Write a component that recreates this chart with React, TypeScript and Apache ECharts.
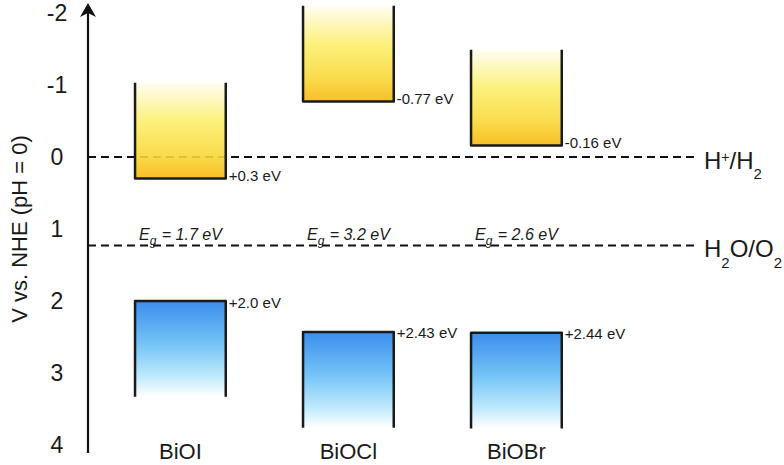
import React, { useEffect, useRef } from 'react';
import * as echarts from 'echarts';

// ---- data ----
const materials = ['BiOI', 'BiOCl', 'BiOBr'];
const conductionBand = [0.3, -0.77, -0.16]; // CB edge, V vs NHE
const valenceBand = [2.0, 2.43, 2.44]; // VB edge, V vs NHE
const bandGap = [1.7, 3.2, 2.6]; // eV
const redoxPotential = [0, 1.23];
const redoxCouple = ['H+/H2', 'H2O/O2'];
const yTickMin = -2;
const yTickMax = 4;
const yTickStep = 1;

// ---- layout / style constants ----
const FONT = "'Liberation Sans', Arial, Helvetica, sans-serif";
const INK = '#1a1a1a';
const X_MIN = -0.55;
const X_MAX = 3.075;
const BOX_HALF = 0.27;
const BAND_DEPTH = 1.33;
const EG_LEVEL = 1.06;

function fmtEV(v: number): string {
  const s = Number.isInteger(v) ? v.toFixed(1) : String(v);
  return (v > 0 ? '+' : '') + s + ' eV';
}

function chemRich(s: string): string {
  let out = '';
  for (const ch of s) {
    if (ch === '+') out += `{sup|${ch}}`;
    else if (/\d/.test(ch)) out += `{sub|${ch}}`;
    else out += `{n|${ch}}`;
  }
  return out;
}

const cbGradient = () =>
  new echarts.graphic.LinearGradient(0, 0, 0, 1, [
    { offset: 0, color: '#fffdf0' },
    { offset: 0.4, color: '#fcef6e' },
    { offset: 0.75, color: '#f9d83a' },
    { offset: 1, color: '#f6b80e' },
  ]);
const vbGradient = () =>
  new echarts.graphic.LinearGradient(0, 0, 0, 1, [
    { offset: 0, color: '#3b8eec' },
    { offset: 0.45, color: '#74c4f7' },
    { offset: 0.8, color: '#c2ebfc' },
    { offset: 1, color: '#ffffff' },
  ]);

export default function App() {
  const ref = useRef<HTMLDivElement>(null);
  useEffect(() => {
    if (!ref.current) return;
    const chart = echarts.init(ref.current, undefined, { renderer: 'svg' });

    const bandData = materials.map((_, i) => [i, conductionBand[i], valenceBand[i], bandGap[i]]);
    const redoxData = redoxPotential.map((v, k) => [v, k]);

    const option: any = {
      animation: false,
      backgroundColor: '#ffffff',
      grid: { left: 88, right: 87, top: 13, bottom: 20, containLabel: false },
      xAxis: {
        type: 'value',
        min: X_MIN,
        max: X_MAX,
        axisLine: { show: false },
        axisTick: { show: false },
        axisLabel: { show: false },
        splitLine: { show: false },
      },
      yAxis: {
        type: 'value',
        inverse: true,
        min: yTickMin,
        max: yTickMax,
        interval: yTickStep,
        name: 'V vs. NHE (pH = 0)',
        nameLocation: 'middle',
        nameRotate: 90,
        nameGap: 58,
        nameTextStyle: { fontSize: 22, color: INK, fontFamily: FONT },
        axisLine: { show: false },
        axisTick: { show: false },
        splitLine: { show: false },
        axisLabel: { fontSize: 23, color: INK, fontFamily: FONT, align: 'center', margin: 31 },
      },
      graphic: [
        {
          type: 'line',
          shape: { x1: 88, y1: 10, x2: 88, y2: 453 },
          style: { stroke: '#111', lineWidth: 2.2 },
          z: 10,
        },
        {
          type: 'polygon',
          shape: { points: [[88, 3], [96, 17], [88, 13], [80, 17]] },
          style: { fill: '#111' },
          z: 10,
        },
      ],
      series: [
        {
          type: 'custom',
          name: 'redox',
          z: 1,
          clip: false,
          data: redoxData,
          renderItem: (params: any, api: any) => {
            const lvl = api.value(0);
            const [x0, y] = api.coord([X_MIN, lvl]);
            const [x1] = api.coord([X_MAX, lvl]);
            return {
              type: 'group',
              children: [
                {
                  type: 'line',
                  shape: { x1: x0, y1: y, x2: x1, y2: y },
                  style: { stroke: '#111', lineWidth: 2, lineDash: [8, 5] },
                },
                {
                  type: 'text',
                  x: x1 + 7,
                  y: y + 4,
                  style: {
                    text: chemRich(redoxCouple[params.dataIndex]),
                    align: 'left',
                    verticalAlign: 'middle',
                    fill: INK,
                    fontFamily: FONT,
                    fontSize: 24,
                    rich: {
                      n: { fontSize: 24, lineHeight: 26, verticalAlign: 'top', fontFamily: FONT, fill: INK },
                      sup: { fontSize: 14, lineHeight: 14, verticalAlign: 'top', padding: [2, 0, 0, 0], fontFamily: FONT, fill: INK },
                      sub: { fontSize: 15, lineHeight: 15, verticalAlign: 'top', padding: [18, 0, 0, 0], fontFamily: FONT, fill: INK },
                    },
                  },
                },
              ],
            };
          },
        },
        {
          type: 'custom',
          name: 'bands',
          z: 2,
          clip: false,
          data: bandData,
          renderItem: (params: any, api: any) => {
            const i = api.value(0);
            const cb = api.value(1);
            const vb = api.value(2);
            const eg = api.value(3);
            const [xl, yCb] = api.coord([i - BOX_HALF, cb]);
            const [xr] = api.coord([i + BOX_HALF, cb]);
            const [, yCbTop] = api.coord([i, cb - BAND_DEPTH]);
            const [, yVb] = api.coord([i, vb]);
            const [, yVbBot] = api.coord([i, vb + BAND_DEPTH]);
            const [xc, yEg] = api.coord([i, EG_LEVEL]);
            const [, yEnd] = api.coord([i, yTickMax]);
            const stroke = { stroke: INK, lineWidth: 2.5, fill: 'none', lineJoin: 'round', lineCap: 'butt' };
            return {
              type: 'group',
              children: [
                {
                  type: 'rect',
                  shape: { x: xl, y: yCbTop, width: xr - xl, height: yCb - yCbTop },
                  style: { fill: cbGradient(), opacity: 0.9 },
                },
                {
                  type: 'polyline',
                  shape: { points: [[xl, yCbTop], [xl, yCb], [xr, yCb], [xr, yCbTop]] },
                  style: stroke,
                },
                {
                  type: 'rect',
                  shape: { x: xl, y: yVb, width: xr - xl, height: yVbBot - yVb },
                  style: { fill: vbGradient() },
                },
                {
                  type: 'polyline',
                  shape: { points: [[xl, yVbBot], [xl, yVb], [xr, yVb], [xr, yVbBot]] },
                  style: stroke,
                },
                {
                  type: 'text',
                  x: xr + 3,
                  y: yCb - 3,
                  style: { text: fmtEV(cb), fontSize: 15, fontFamily: FONT, fill: INK, align: 'left', verticalAlign: 'middle' },
                },
                {
                  type: 'text',
                  x: xr + 3,
                  y: yVb + 1,
                  style: { text: fmtEV(vb), fontSize: 15, fontFamily: FONT, fill: INK, align: 'left', verticalAlign: 'middle' },
                },
                {
                  type: 'text',
                  x: xc,
                  y: yEg + 2,
                  style: {
                    text: `{i|E}{g|g}{i| = ${eg.toFixed(1)} eV}`,
                    align: 'center',
                    verticalAlign: 'middle',
                    fontFamily: FONT,
                    fontStyle: 'italic',
                    fontSize: 16,
                    fill: INK,
                    rich: {
                      i: { fontSize: 16, lineHeight: 18, verticalAlign: 'top', fontStyle: 'italic', fontFamily: FONT, fill: INK },
                      g: { fontSize: 12, lineHeight: 12, verticalAlign: 'top', padding: [9, 1, 0, 0], fontStyle: 'italic', fontFamily: FONT, fill: INK },
                    },
                  },
                },
                {
                  type: 'text',
                  x: xc,
                  y: yEnd + 6,
                  style: { text: materials[params.dataIndex], fontSize: 22, fontFamily: FONT, fill: INK, align: 'center', verticalAlign: 'middle' },
                },
              ],
            };
          },
        },
      ],
    };
    chart.setOption(option);
    return () => chart.dispose();
  }, []);
  return <div ref={ref} style={{ position: 'fixed', left: 0, top: 0, width: 784, height: 465 }} />;
}
